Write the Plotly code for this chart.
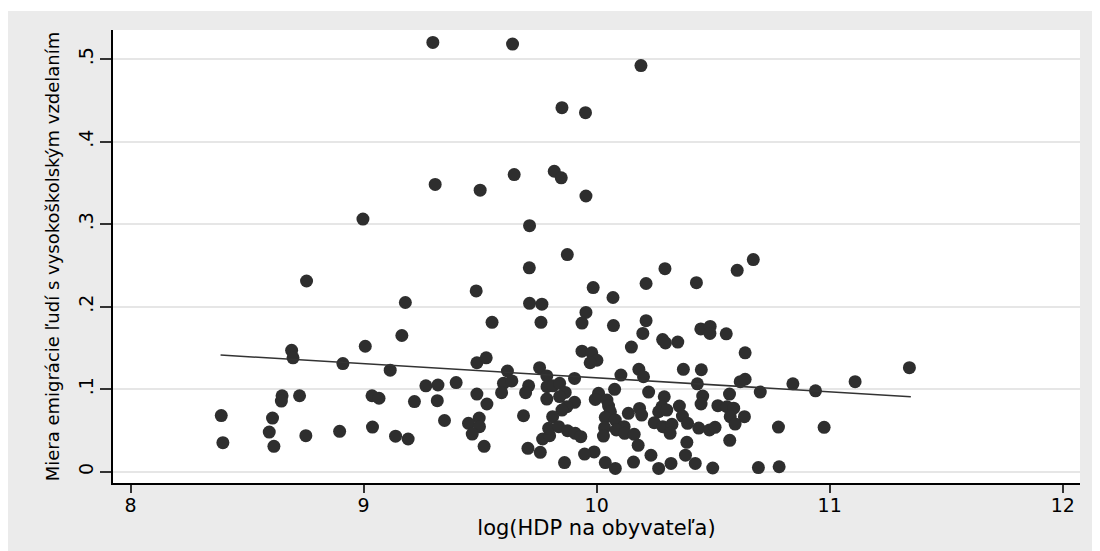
import plotly.graph_objects as go

# log(HDP na obyvateľa)
gdp_log = [
    8.755, 9.483, 9.179, 9.551, 9.164, 9.007, 8.691, 8.697, 8.911, 9.114,
    9.486, 9.526, 9.267, 9.319, 9.397, 8.650, 8.647, 8.725, 9.036, 9.066,
    9.218, 9.316, 9.486, 9.529, 8.389, 8.609, 9.347, 9.496, 9.450, 9.497,
    9.466, 8.595, 9.038, 8.897, 9.137, 9.191, 8.752, 8.396, 8.615, 9.517,
    9.297, 9.639, 10.190, 9.851, 9.952, 9.307, 9.500, 9.646, 9.818, 9.848,
    9.954, 8.997, 9.712, 9.874, 9.711, 9.985, 10.070, 10.212, 10.293, 10.428,
    10.603, 10.672,
    9.712, 9.765, 9.954, 9.761, 9.937, 10.072, 10.212, 10.198, 10.283, 10.295,
    10.348, 10.447, 10.487, 10.486, 10.556, 10.149, 9.937, 9.979, 10.001, 9.972,
    10.637, 9.617, 9.755, 9.786, 9.905, 10.104, 10.181, 10.201, 10.372, 10.449,
    10.432, 10.616, 10.637, 10.702, 10.842, 9.600, 9.636, 9.708, 9.695, 9.592,
    9.787, 9.812, 9.841, 9.865, 9.841, 9.786, 9.905, 9.872, 9.851, 9.811,
    9.686, 10.008, 9.994, 10.044, 10.051, 10.059, 10.037, 10.077, 10.080, 10.034,
    10.118, 10.084, 10.120, 10.161, 10.029, 10.136, 10.184, 10.193, 10.223, 10.290,
    10.280, 10.266, 10.301, 10.247, 10.284, 10.323, 10.315, 10.355, 10.368, 10.390,
    10.438, 10.484, 10.508, 10.455, 10.448, 10.520, 10.559, 10.588, 10.570, 10.573,
    10.634, 10.594, 10.780, 10.571, 10.387, 10.178, 10.233, 10.381, 10.423, 10.319,
    10.266, 10.158, 10.080, 10.037, 10.498, 10.694, 10.783, 9.989, 9.948, 9.862,
    9.758, 9.705, 9.768, 9.798, 9.794, 9.837, 9.875, 9.908, 9.932,
    10.939, 11.109, 11.342, 10.976,
]

# Miera emigrácie ľudí s vysokoškolským vzdelaním
emig_rate = [
    0.231, 0.219, 0.205, 0.181, 0.165, 0.152, 0.147, 0.138, 0.131, 0.123,
    0.132, 0.138, 0.104, 0.105, 0.108, 0.092, 0.0856, 0.092, 0.092, 0.089,
    0.085, 0.086, 0.094, 0.082, 0.068, 0.065, 0.062, 0.065, 0.0586, 0.0545,
    0.0456, 0.048, 0.054, 0.0489, 0.043, 0.0396, 0.0436, 0.0351, 0.0307, 0.0307,
    0.520, 0.518, 0.492, 0.441, 0.435, 0.348, 0.341, 0.360, 0.364, 0.356,
    0.334, 0.306, 0.298, 0.263, 0.247, 0.223, 0.211, 0.228, 0.246, 0.229,
    0.244, 0.257,
    0.204, 0.203, 0.193, 0.181, 0.180, 0.177, 0.183, 0.1675, 0.160, 0.156,
    0.157, 0.173, 0.176, 0.1675, 0.167, 0.151, 0.146, 0.144, 0.135, 0.132,
    0.144, 0.122, 0.126, 0.116, 0.113, 0.117, 0.124, 0.115, 0.124, 0.1235,
    0.1065, 0.109, 0.112, 0.0965, 0.1065, 0.107, 0.110, 0.104, 0.0957, 0.0957,
    0.103, 0.104, 0.107, 0.096, 0.091, 0.088, 0.084, 0.0787, 0.0747, 0.0666,
    0.0678, 0.0949, 0.0876, 0.0868, 0.0795, 0.0726, 0.0659, 0.0998, 0.0626, 0.0533,
    0.0545, 0.0505, 0.0465, 0.0453, 0.0432, 0.0707, 0.0767, 0.0686, 0.0965, 0.0908,
    0.0787, 0.0726, 0.0747, 0.0593, 0.0545, 0.0574, 0.0465, 0.0795, 0.0674, 0.0586,
    0.0529, 0.0505, 0.0537, 0.0916, 0.082, 0.080, 0.0787, 0.077, 0.094, 0.0666,
    0.0666, 0.0577, 0.054, 0.038, 0.0356, 0.032, 0.0199, 0.020, 0.010, 0.010,
    0.004, 0.0117, 0.004, 0.011, 0.0045, 0.005, 0.006, 0.024, 0.0214, 0.011,
    0.0235, 0.0283, 0.0396, 0.0436, 0.0525, 0.0545, 0.0496, 0.0465, 0.0424,
    0.098, 0.109, 0.126, 0.0537,
]

# Fitted linear trend (end points)
fit_x = [8.386, 11.348]
fit_y = [0.1413, 0.0908]

x_ticks = [8, 9, 10, 11, 12]
y_ticks = [0, 0.1, 0.2, 0.3, 0.4, 0.5]
y_tick_labels = ["0", ".1", ".2", ".3", ".4", ".5"]

FONT = "DejaVu Sans"
DOT = "#2e2e2e"

fig = go.Figure()
fig.add_trace(go.Scatter(
    x=gdp_log, y=emig_rate, mode="markers",
    marker=dict(color=DOT, size=13, line=dict(width=0)),
    showlegend=False, hoverinfo="x+y",
))
fig.add_trace(go.Scatter(
    x=fit_x, y=fit_y, mode="lines",
    line=dict(color="#333333", width=1.5),
    showlegend=False, hoverinfo="skip",
))

# page has an 8px body margin; figure sized to fill the rest of the window
W, H = 1092, 543
L, R, T, B = 105, 20, 22, 68
PW, PH = W - L - R, H - T - B

fig.update_layout(
    width=W, height=H,
    margin=dict(l=L, r=R, t=T, b=B, pad=0),
    paper_bgcolor="white",
    plot_bgcolor="white",
    font=dict(family=FONT, color="black"),
    shapes=[
        dict(type="rect", xref="paper", yref="paper", layer="below",
             x0=-(L + 2) / PW, x1=1 + (R + 2) / PW,
             y0=-(B + 2) / PH, y1=1 + (T - 3) / PH,
             fillcolor="#ebebeb", line=dict(width=0)),
        dict(type="rect", xref="paper", yref="paper", layer="below",
             x0=0, x1=1, y0=0, y1=1,
             fillcolor="white", line=dict(width=0)),
    ],
    xaxis=dict(
        range=[7.9245, 12.074], tickvals=x_ticks,
        ticks="outside", ticklen=8, tickwidth=1.5, tickcolor="#333333",
        ticklabelstandoff=-4,
        showline=True, linecolor="black", linewidth=1.5,
        showgrid=False, zeroline=False,
        tickfont=dict(size=19, family=FONT, color="black"),
        title=dict(text="log(HDP na obyvateľa)", standoff=0,
                   font=dict(size=21, family=FONT, color="black")),
    ),
    yaxis=dict(
        range=[-0.0137, 0.5351], tickvals=y_ticks, ticktext=y_tick_labels,
        tickangle=-90,
        ticks="outside", ticklen=11, tickwidth=1.5, tickcolor="#333333",
        showline=True, linecolor="black", linewidth=1.5,
        showgrid=True, gridcolor="#e6e6e6", gridwidth=1.5, zeroline=False,
        tickfont=dict(size=19, family=FONT, color="black"),
        title=dict(text="Miera emigrácie ľudí s vysokoškolským vzdelaním",
                   standoff=10,
                   font=dict(size=18, family=FONT, color="black")),
    ),
)

fig.write_html("out.html")
